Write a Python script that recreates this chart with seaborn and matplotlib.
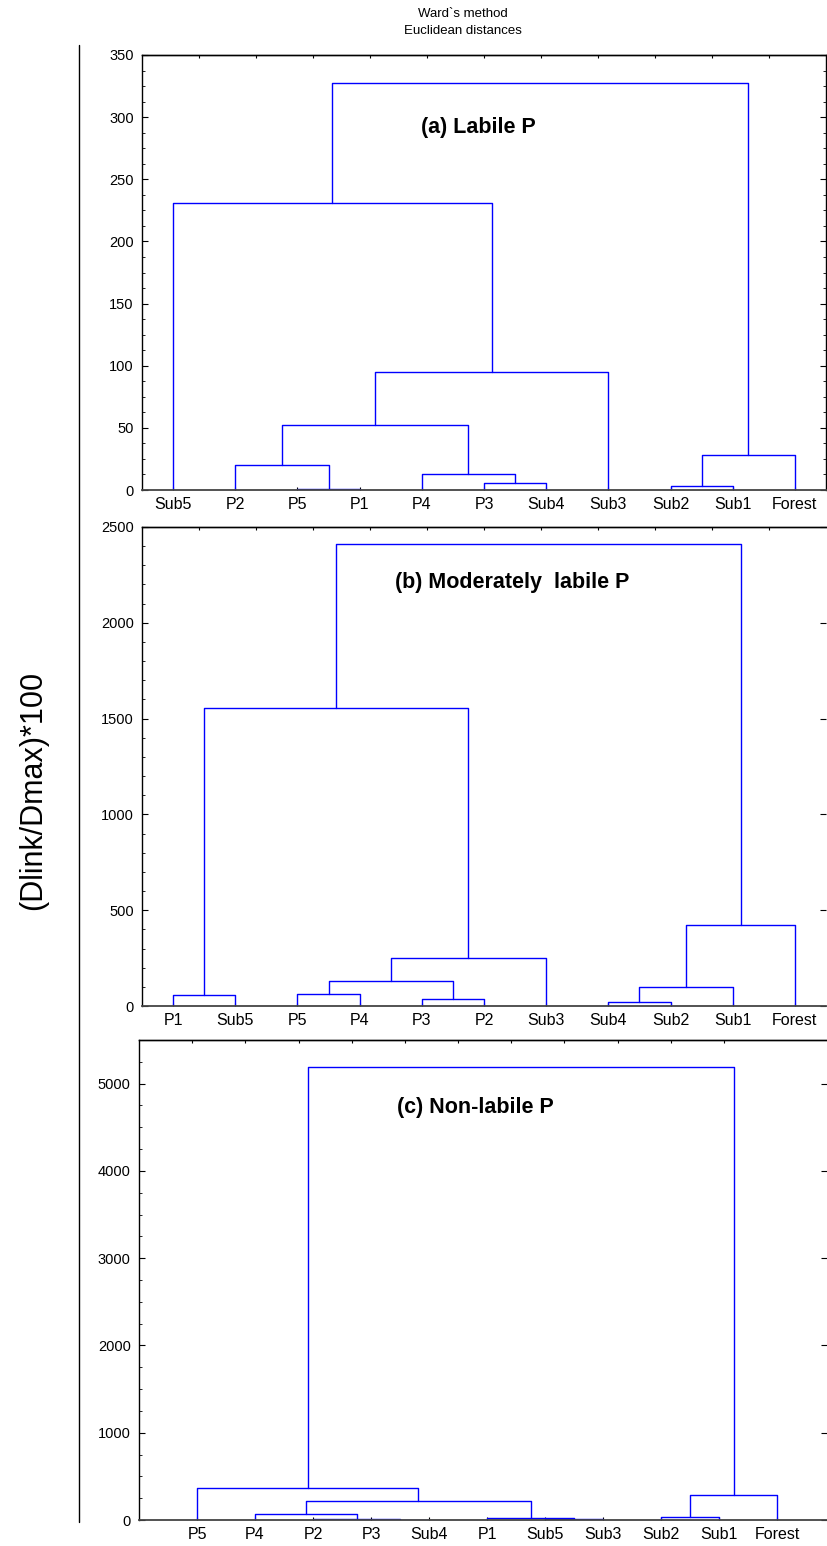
import matplotlib
matplotlib.use("Agg")
import matplotlib.pyplot as plt
import seaborn as sns
import pandas as pd
import numpy as np
from matplotlib.ticker import MultipleLocator

# ---------------- data ----------------
title_lines = ["Ward`s method", "Euclidean distances"]
ylabel = "(Dlink/Dmax)*100"

# panel (a) Labile P
leaves_a = ["Sub5", "P2", "P5", "P1", "P4", "P3", "Sub4", "Sub3", "Sub2", "Sub1", "Forest"]
left_a = ["P5", "Sub2", "P3", "P4", "P2", "#4", "#1", "#5", "Sub5", "#8"]
right_a = ["P1", "Sub1", "Sub4", "#2", "#0", "#3", "Forest", "Sub3", "#7", "#6"]
height_a = [0.6, 3.2, 5.4, 13.0, 20.3, 52.7, 28.0, 95.0, 231.0, 327.5]

# panel (b) Moderately labile P
leaves_b = ["P1", "Sub5", "P5", "P4", "P3", "P2", "Sub3", "Sub4", "Sub2", "Sub1", "Forest"]
left_b = ["Sub4", "P3", "P1", "P5", "#0", "#3", "#5", "#4", "#2", "#8"]
right_b = ["Sub2", "P2", "Sub5", "P4", "Sub1", "#1", "Sub3", "Forest", "#6", "#7"]
height_b = [22, 37, 57, 63, 100, 130, 250, 422, 1555, 2411]

# panel (c) Non-labile P
leaves_c = ["P5", "P4", "P2", "P3", "Sub4", "P1", "Sub5", "Sub3", "Sub2", "Sub1", "Forest"]
left_c = ["P3", "Sub5", "P2", "P1", "Sub2", "P4", "#5", "#4", "P5", "#8"]
right_c = ["Sub4", "Sub3", "#0", "#1", "Sub1", "#2", "#3", "Forest", "#6", "#7"]
height_c = [5, 6, 10, 20, 39, 65, 216, 292, 364, 5190]

panel_titles = ["(a) Labile P", "(b) Moderately  labile P", "(c) Non-labile P"]
ylims = [350, 2500, 5500]
ymajor = [50, 500, 1000]
yminor = [12.5, 100, 250]

# ---------------- style ----------------
sns.set_style("white")
plt.rcParams["font.family"] = ["Liberation Sans", "DejaVu Sans"]
plt.rcParams["text.color"] = "black"
plt.rcParams["xtick.color"] = "black"
plt.rcParams["ytick.color"] = "black"

W, H = 827, 1546
fig = plt.figure(figsize=(W / 100, H / 100), dpi=100)


def px_axes(l, r, t, b):
    return fig.add_axes([l / W, 1 - b / H, (r - l) / W, (b - t) / H])


def segments(leaves, left, right, heights):
    pos = {name: (i, 0.0) for i, name in enumerate(leaves)}
    rows = []
    for k, (a, b, h) in enumerate(zip(left, right, heights)):
        xa, ya = pos[a]
        xb, yb = pos[b]
        for x, y in [(xa, ya), (xa, h), (xb, h), (xb, yb)]:
            rows.append({"seg": k, "x": x, "y": y})
        pos["#%d" % k] = ((xa + xb) / 2, h)
    return pd.DataFrame(rows)


panels = [
    (leaves_a, left_a, right_a, height_a, (142, 826, 55, 490), (-0.5, 10.5), True),
    (leaves_b, left_b, right_b, height_b, (142, 826, 527, 1006), (-0.5, 10.5), False),
    (leaves_c, left_c, right_c, height_c, (139, 827, 1040, 1520), (-1.0, 10.86), False),
]
text_pos = [(478, 128), (512, 583), (475, 1108)]

for i, (lv, lf, rt, hg, box, xl, full) in enumerate(panels):
    ax = px_axes(*box)
    df = segments(lv, lf, rt, hg)
    sns.lineplot(data=df, x="x", y="y", units="seg", estimator=None, sort=False,
                 color="#0000FF", linewidth=1.0, ax=ax, legend=False)
    ax.set_xlim(*xl)
    ax.set_ylim(0, ylims[i])
    ax.set_xlabel("")
    ax.set_ylabel("")
    ax.set_xticks(range(len(lv)))
    ax.set_xticklabels(lv, fontsize=11.5)
    ax.yaxis.set_major_locator(MultipleLocator(ymajor[i]))
    ax.yaxis.set_minor_locator(MultipleLocator(yminor[i]))
    ax.tick_params(axis="y", which="major", direction="in", length=4, width=0.8,
                   labelsize=10.5, pad=6, left=True, right=True)
    ax.tick_params(axis="y", which="minor", direction="in", length=2.5, width=0.6,
                   left=True, right=full)
    ax.tick_params(axis="x", which="major", direction="in", length=2.5, width=0.8,
                   pad=5, bottom=True)
    for s in ax.spines.values():
        s.set_color("black")
        s.set_linewidth(1.0)
    ax.spines["bottom"].set_color("#444444")
    ax.spines["bottom"].set_linewidth(1.3)
    if not full:
        ax.spines["right"].set_visible(False)
    sec = ax.secondary_xaxis("top")
    sec.set_xticks(np.linspace(xl[0], xl[0] + 11, 13)[1:-1])
    sec.set_xticklabels([])
    sec.tick_params(direction="in", length=2.5, width=0.8)
    sec.spines["top"].set_linewidth(1.0)
    tx, ty = text_pos[i]
    fig.text(tx / W, 1 - ty / H, panel_titles[i], ha="center", va="center",
             fontsize=15.5, fontweight="bold")

fig.text(463 / W, 1 - 14 / H, title_lines[0], ha="center", va="center", fontsize=9.5)
fig.text(463 / W, 1 - 31 / H, title_lines[1], ha="center", va="center", fontsize=9.5)
fig.text(33 / W, 1 - 790 / H, ylabel, ha="center", va="center", rotation=90, fontsize=22)
fig.add_artist(plt.Line2D([79 / W, 79 / W], [1 - 45 / H, 1 - 1522 / H], color="black", linewidth=1.0))

fig.savefig("out.png", dpi=100)
